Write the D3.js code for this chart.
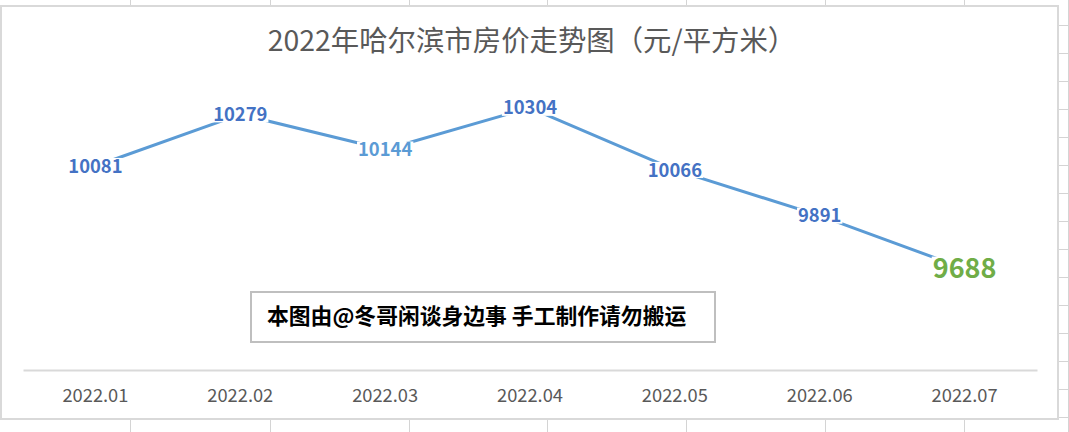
<!DOCTYPE html>
<html>
<head>
<meta charset="utf-8">
<script src="https://cdn.jsdelivr.net/npm/d3@7"></script>
<style>
  html, body { margin: 0; padding: 0; background: #fff; }
  svg { display: block; }
</style>
</head>
<body>
<div id="chart"></div>
<script>
// data
const months = ["2022.01", "2022.02", "2022.03", "2022.04", "2022.05", "2022.06", "2022.07"];
const prices = [10081, 10279, 10144, 10304, 10066, 9891, 9688];
const valueRange = [9300, 10400]; // hidden value axis
const chartTitle = "2022年哈尔滨市房价走势图（元/平方米）";
const noteText = "本图由@冬哥闲谈身边事 手工制作请勿搬运";

const width = 1069, height = 432;
const plot = { left: 23, right: 1037, top: 82.7, bottom: 370 };
const cjk = "'Noto Sans CJK SC', 'Noto Sans', sans-serif";

const svg = d3.select("#chart").append("svg")
  .attr("width", width)
  .attr("height", height);

// spreadsheet cells behind the chart
const sheet = svg.append("g").attr("stroke", "#d4d4d4").attr("stroke-width", 1);
[130, 270, 409, 547, 686, 825, 964, 1068].forEach(x => {
  sheet.append("line").attr("x1", x + 0.5).attr("x2", x + 0.5).attr("y1", 0).attr("y2", height);
});
d3.range(25, height, 28).forEach(y => {
  sheet.append("line").attr("x1", 0).attr("x2", width).attr("y1", y + 0.5).attr("y2", y + 0.5);
});

// chart area
svg.append("rect")
  .attr("x", 1).attr("y", 6)
  .attr("width", 1057).attr("height", 413)
  .attr("fill", "#fff")
  .attr("stroke", "#d9d9d9")
  .attr("stroke-width", 2);

svg.append("text")
  .attr("x", 532)
  .attr("y", 51)
  .attr("text-anchor", "middle")
  .attr("font-family", cjk)
  .attr("font-size", 28.4)
  .attr("fill", "#595959")
  .text(chartTitle);

const x = d3.scaleBand().domain(months).range([plot.left, plot.right]);
const y = d3.scaleLinear().domain(valueRange).range([plot.bottom, plot.top]);
const cx = d => x(d) + x.bandwidth() / 2;

const xAxis = svg.append("g")
  .attr("transform", `translate(0, ${plot.bottom})`)
  .call(d3.axisBottom(x).tickSize(0).tickPadding(19));
xAxis.select(".domain").attr("stroke", "#d9d9d9").attr("stroke-width", 2);
xAxis.selectAll("text")
  .attr("font-family", cjk)
  .attr("font-size", 18.3)
  .attr("fill", "#595959");

const points = months.map((m, i) => ({ month: m, value: prices[i] }));

svg.append("path")
  .datum(points)
  .attr("fill", "none")
  .attr("stroke", "#5b9bd5")
  .attr("stroke-width", 3)
  .attr("stroke-linejoin", "round")
  .attr("d", d3.line().x(d => cx(d.month)).y(d => y(d.value)));

// data labels sit on the points, covering the line
const last = points.length - 1;
const labelColor = (d, i) => i === last ? "#70ad47" : (i === 2 ? "#5b9bd5" : "#4472c4");

const labels = svg.append("g").selectAll("g")
  .data(points)
  .join("g")
  .attr("transform", d => `translate(${cx(d.month)}, ${y(d.value)})`);

labels.append("text")
  .attr("text-anchor", "middle")
  .attr("dy", "0.36em")
  .attr("font-family", cjk)
  .attr("font-weight", "bold")
  .attr("font-size", (d, i) => i === last ? 27 : 18.4)
  .attr("fill", labelColor)
  .text(d => d.value);

labels.each(function () {
  const g = d3.select(this);
  const bb = g.select("text").node().getBBox();
  const h = bb.height * 0.62;
  g.insert("rect", "text")
    .attr("x", bb.x - 1)
    .attr("y", -h / 2)
    .attr("width", bb.width + 2)
    .attr("height", h)
    .attr("fill", "#fff");
});

// note box
svg.append("rect")
  .attr("x", 251).attr("y", 292)
  .attr("width", 464).attr("height", 50)
  .attr("fill", "#fff")
  .attr("stroke", "#bfbfbf")
  .attr("stroke-width", 2);

svg.append("text")
  .attr("x", 267)
  .attr("y", 324)
  .attr("font-family", cjk)
  .attr("font-weight", "bold")
  .attr("font-size", 21.8)
  .attr("fill", "#000")
  .text(noteText);
</script>
</body>
</html>
